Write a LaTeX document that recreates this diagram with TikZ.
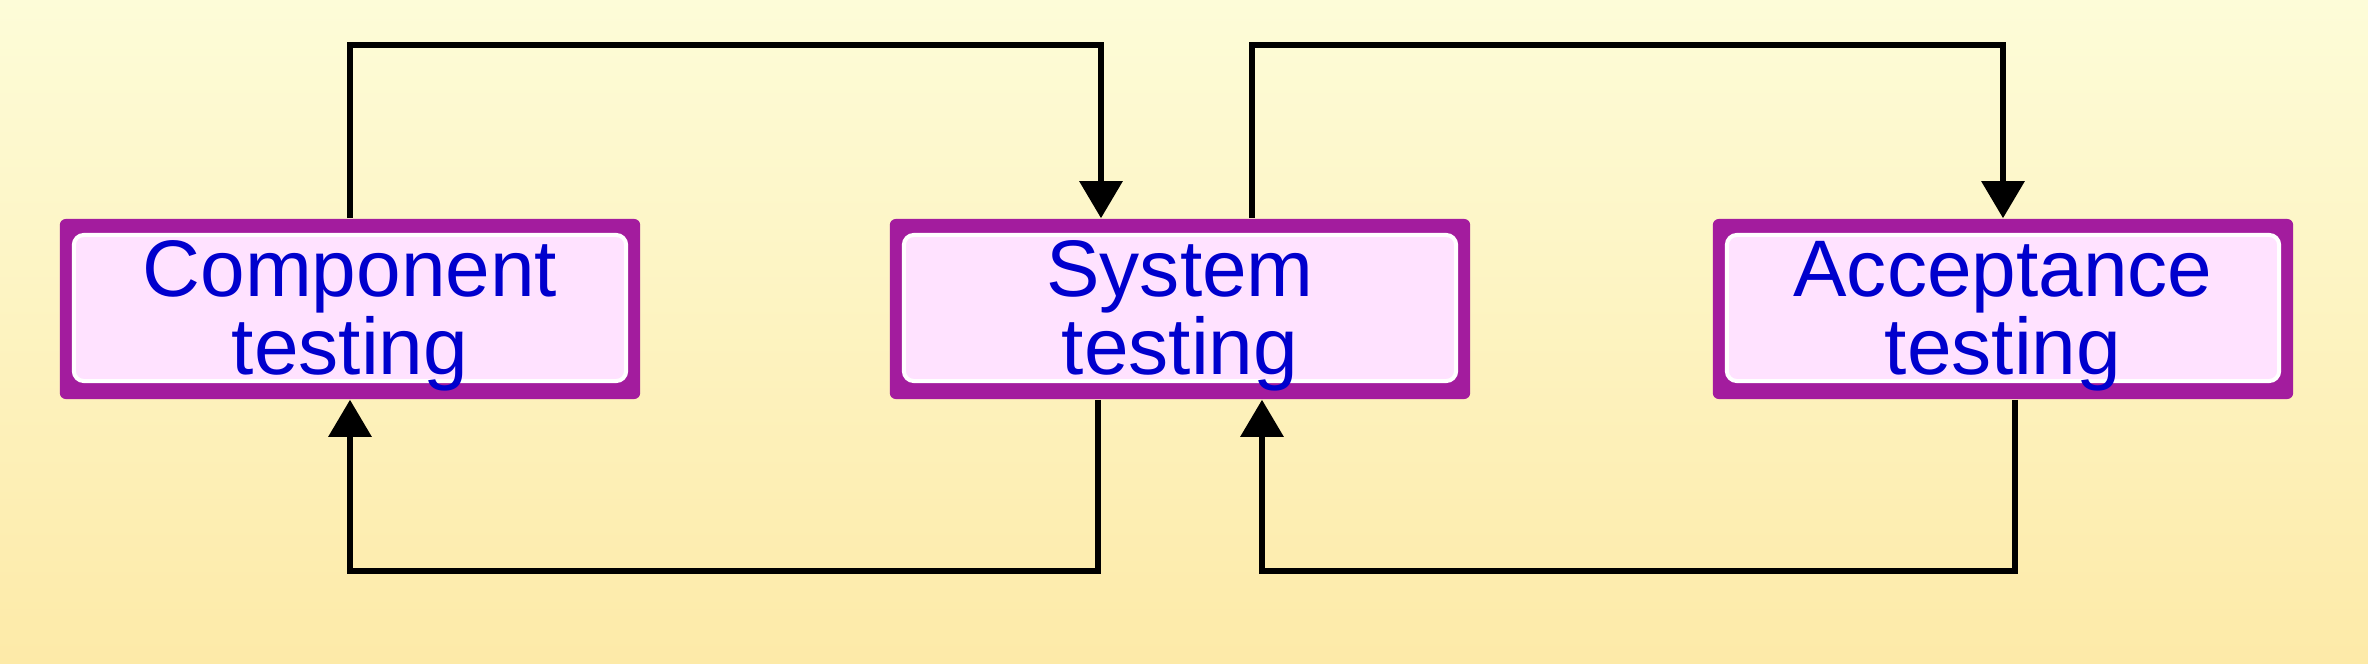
\documentclass[tikz,border=0pt]{standalone}
\usepackage{fontspec}
\setmainfont{Liberation Sans}
\usetikzlibrary{arrows.meta}
\definecolor{bgtop}{RGB}{253,252,216}
\definecolor{bgbot}{RGB}{253,234,168}
\definecolor{boxpurple}{RGB}{163,28,158}
\definecolor{boxpink}{RGB}{255,226,255}
\definecolor{textblue}{RGB}{0,0,205}
\tikzset{
  stagebox/.style={
    fill=boxpurple, rounded corners=0.06cm,
    minimum width=5.8cm, minimum height=1.8cm, inner sep=0pt,
    text=textblue, align=center,
    font=\fontsize{22.8pt}{20.6pt}\selectfont,
    text depth=0pt,
    path picture={
      \draw[white, line width=0.04cm, fill=boxpink, rounded corners=0.1cm]
        ([shift={(0.14cm,0.18cm)}]path picture bounding box.south west)
        rectangle
        ([shift={(-0.14cm,-0.16cm)}]path picture bounding box.north east);
    }
  },
  conn/.style={draw=black, line width=0.06cm},
  arr/.style={conn, -{Triangle[width=0.42cm,length=0.37cm]}}
}
\begin{document}
\begin{tikzpicture}[x=0.01cm,y=-0.01cm]
\useasboundingbox (0,0) rectangle (2368,664);
\shade[top color=bgtop, bottom color=bgbot] (0,0) rectangle (2368,664);

\node[stagebox] (comp) at (350,309) {};
\node[stagebox] (sys) at (1180,309) {};
\node[stagebox] (acc) at (2003,309) {};
\node[text=textblue, align=center, font=\fontsize{22.8pt}{20.6pt}\selectfont] (compt) at ([yshift=-0.07cm]comp.center) {Component\\testing};
\node[text=textblue, align=center, font=\fontsize{22.8pt}{20.6pt}\selectfont] (syst) at ([yshift=-0.07cm]sys.center) {System\\testing};
\node[text=textblue, align=center, font=\fontsize{22.8pt}{20.6pt}\selectfont] (acct) at ([yshift=-0.07cm]acc.center) {Acceptance\\testing};

\coordinate (t1) at (1101,45);
\coordinate (t2) at (1252,45);
\coordinate (b1) at (1098,571);
\coordinate (b2) at (2015,571);
\coordinate (b3) at (1262,571);

\draw[arr] (comp.north) |- (t1) -- (t1 |- sys.north);
\draw[arr] (sys.north -| t2) -- (t2) -| (acc.north);
\draw[arr] (sys.south -| b1) -- (b1) -| (comp.south);
\draw[arr] (acc.south -| b2) -- (b2) -- (b3) -- (b3 |- sys.south);
\end{tikzpicture}
\end{document}
